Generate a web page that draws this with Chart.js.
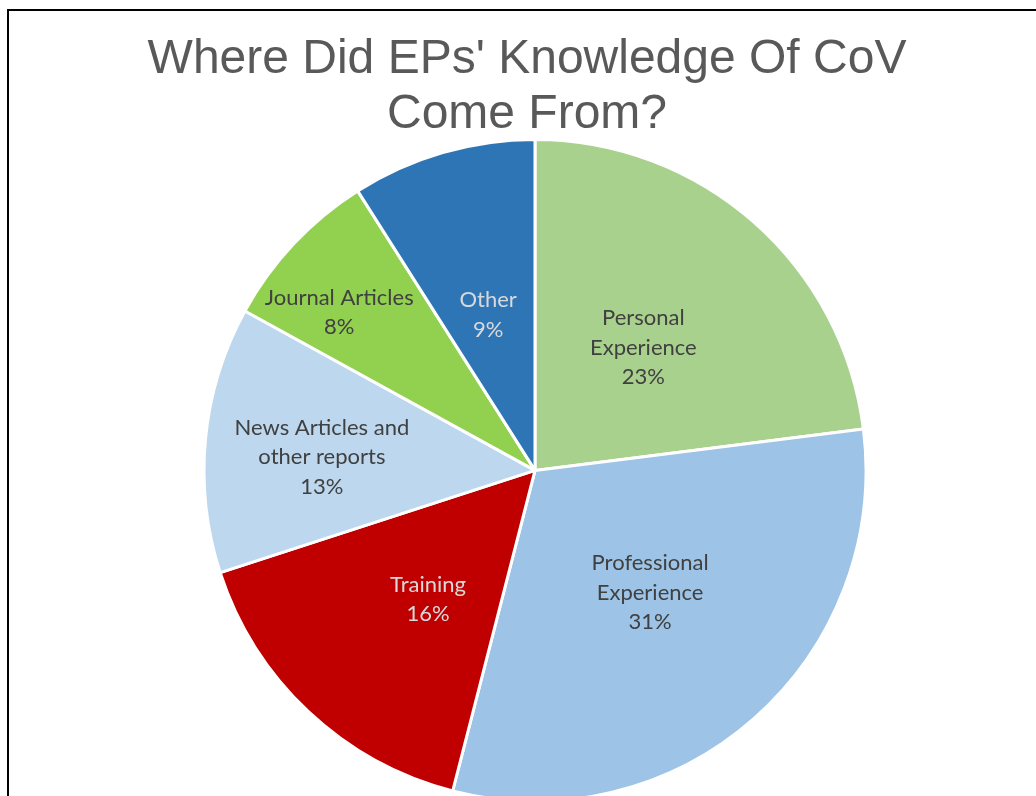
<!DOCTYPE html>
<html>
<head>
<meta charset="utf-8">
<title>Where Did EPs' Knowledge Of CoV Come From?</title>
<script src="https://cdn.jsdelivr.net/npm/chart.js@4"></script>
<style>
  html, body { margin: 0; padding: 0; background: #fff; overflow: hidden; }
  #wrap { position: relative; width: 1036px; height: 800px; }
  #frame {
    position: absolute; left: 7px; top: 9px; width: 1200px; height: 1000px;
    border-left: 2px solid #000; border-top: 2px solid #000; pointer-events: none;
  }
</style>
</head>
<body>
<div id="wrap">
  <canvas id="pie"></canvas>
  <div id="frame"></div>
</div>
<script>
// Sources of knowledge, clockwise from the top
const categories = [
  ['Personal', 'Experience'],
  ['Professional', 'Experience'],
  ['Training'],
  ['News Articles and', 'other reports'],
  ['Journal Articles'],
  ['Other']
];
const shares = [23, 31, 16, 13, 8, 9];
const titleLines = ["Where Did EPs' Knowledge Of CoV", 'Come From?'];

const sliceColors = ['#A9D18E', '#9DC3E6', '#C00000', '#BDD7EE', '#92D050', '#2E75B6'];
const labelColors = ['#404040', '#404040', '#D9D9D9', '#404040', '#404040', '#D9D9D9'];
// label placement: distance from the centre (fraction of radius) and a turn off the slice's mid-angle (degrees)
const labelRadius = [0.495, 0.507, 0.506, 0.645, 0.76, 0.49];
const labelTurn = [0, -1.9, -3.5, -1.9, -4.3, -0.6];

// Two-line heading, centred slightly left of the pie
const heading = {
  id: 'heading',
  afterDraw(chart) {
    const ctx = chart.ctx;
    ctx.save();
    ctx.font = '48px "Liberation Sans", Arial, sans-serif';
    ctx.fillStyle = '#595959';
    ctx.textAlign = 'center';
    ctx.textBaseline = 'middle';
    titleLines.forEach((t, k) => ctx.fillText(t, 527, 59.5 + k * 55));
    ctx.restore();
  }
};

const sliceLabels = {
  id: 'sliceLabels',
  afterDatasetsDraw(chart) {
    const ctx = chart.ctx;
    const meta = chart.getDatasetMeta(0);
    ctx.save();
    ctx.font = '22px Lato, "Noto Sans", sans-serif';
    ctx.textAlign = 'center';
    ctx.textBaseline = 'middle';
    const lh = 29.5;
    meta.data.forEach((arc, i) => {
      const p = arc.getProps(['x', 'y', 'startAngle', 'endAngle', 'outerRadius'], true);
      const mid = (p.startAngle + p.endAngle) / 2 + labelTurn[i] * Math.PI / 180;
      const r = p.outerRadius * labelRadius[i];
      const cx = p.x + Math.cos(mid) * r;
      const cy = p.y + Math.sin(mid) * r;
      const lines = categories[i].concat([shares[i] + '%']);
      const y0 = cy - (lines.length - 1) * lh / 2;
      ctx.fillStyle = labelColors[i];
      lines.forEach((t, k) => ctx.fillText(t, cx, y0 + k * lh));
    });
    ctx.restore();
  }
};

new Chart(document.getElementById('pie'), {
  type: 'pie',
  data: {
    labels: categories.map(c => c.join(' ')),
    datasets: [{
      data: shares,
      backgroundColor: sliceColors,
      borderColor: '#FFFFFF',
      borderWidth: 3,
      radius: 331
    }]
  },
  options: {
    responsive: true,
    maintainAspectRatio: false,
    animation: false,
    layout: { padding: { left: 34, right: 0, top: 140.8, bottom: 0 } },
    plugins: {
      legend: { display: false },
      tooltip: { enabled: false },
      title: { display: false }
    }
  },
  plugins: [sliceLabels, heading]
});
</script>
</body>
</html>
